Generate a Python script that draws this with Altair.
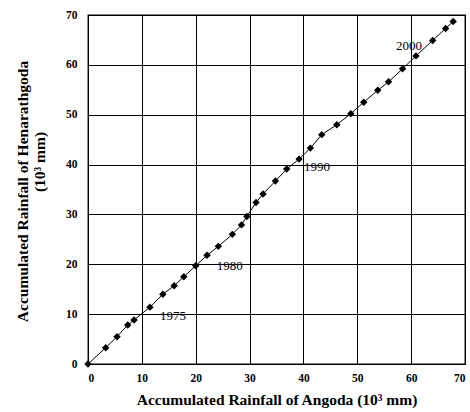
import altair as alt
import pandas as pd

# Accumulated rainfall (10^3 mm)
angoda = [0, 3.29, 5.39, 7.38, 8.55, 11.5, 13.9, 16.0, 17.8, 20.0, 22.1, 24.2,
          26.8, 28.5, 29.5, 31.2, 32.5, 34.8, 36.9, 39.2, 41.3, 43.4, 46.2,
          48.8, 51.2, 53.8, 55.8, 58.4, 60.9, 64.0, 66.4, 67.8]
henarathgoda = [0, 3.27, 5.48, 7.83, 8.84, 11.4, 14.0, 15.7, 17.5, 19.7, 21.8,
                23.6, 26.0, 27.9, 29.6, 32.4, 34.1, 36.7, 39.1, 41.1, 43.3,
                46.0, 48.0, 50.2, 52.5, 54.9, 56.6, 59.2, 61.8, 64.9, 67.3, 68.7]

year_labels = ["1975", "1980", "1990", "2000"]
year_x = [15.8, 26.3, 42.5, 59.6]
year_y = [9.6, 19.7, 39.6, 63.8]

tick_values = [0, 10, 20, 30, 40, 50, 60, 70]

FONT = "Liberation Serif"

df = pd.DataFrame({"x": angoda, "y": henarathgoda})
lab = pd.DataFrame({"x": year_x, "y": year_y, "label": year_labels})

X = alt.X("x:Q",
          scale=alt.Scale(domain=[0, 70], nice=False, zero=True),
          axis=alt.Axis(values=tick_values, format="d", grid=True,
                        gridColor="black", gridOpacity=1, gridWidth=1,
                        ticks=False, domain=False,
                        labelFont=FONT, labelFontWeight="bold", labelFontSize=11.5,
                        labelColor="black", labelPadding=8,
                        title="Accumulated Rainfall of Angoda (10³ mm)",
                        titleFont=FONT, titleFontWeight="bold", titleFontSize=15.5,
                        titleColor="black", titleY=40, titleBaseline="alphabetic"))
Y = alt.Y("y:Q",
          scale=alt.Scale(domain=[0, 70], nice=False, zero=True),
          axis=alt.Axis(values=tick_values, format="d", grid=True,
                        gridColor="black", gridOpacity=1, gridWidth=1,
                        ticks=False, domain=False,
                        labelFont=FONT, labelFontWeight="bold", labelFontSize=11.5,
                        labelColor="black", labelPadding=11,
                        title="Accumulated Rainfall of Henarathgoda",
                        titleFont=FONT, titleFontWeight="bold", titleFontSize=15.5,
                        titleColor="black", titleAngle=270, titleX=-60.5, titleY=176,
                        titleAlign="center", titleBaseline="alphabetic"))

line = alt.Chart(df).mark_line(color="black", strokeWidth=1).encode(x=X, y=Y)
pts = alt.Chart(df).mark_point(shape="diamond", filled=True, color="black",
                               size=55, opacity=1).encode(x=X, y=Y)
years = alt.Chart(lab).mark_text(font=FONT, fontSize=13, color="black",
                                 align="center", baseline="middle").encode(
    x=X, y=Y, text="label:N")
ytitle2 = alt.Chart(pd.DataFrame({"t": ["(10³ mm)"]})).mark_text(
    font=FONT, fontSize=15.5, fontWeight="bold", color="black", angle=270,
    align="center", baseline="alphabetic").encode(
    text="t:N", x=alt.value(-43), y=alt.value(147))

chart = alt.layer(line, pts, years, ytitle2).properties(
    width=377, height=349,
    autosize=alt.AutoSizeParams(type="none"),
    padding={"left": 88, "top": 15, "right": 5, "bottom": 48},
    background="white",
).configure_view(stroke="black", strokeWidth=1.3)

chart.save("out.html", embed_options={"renderer": "svg", "actions": False})
